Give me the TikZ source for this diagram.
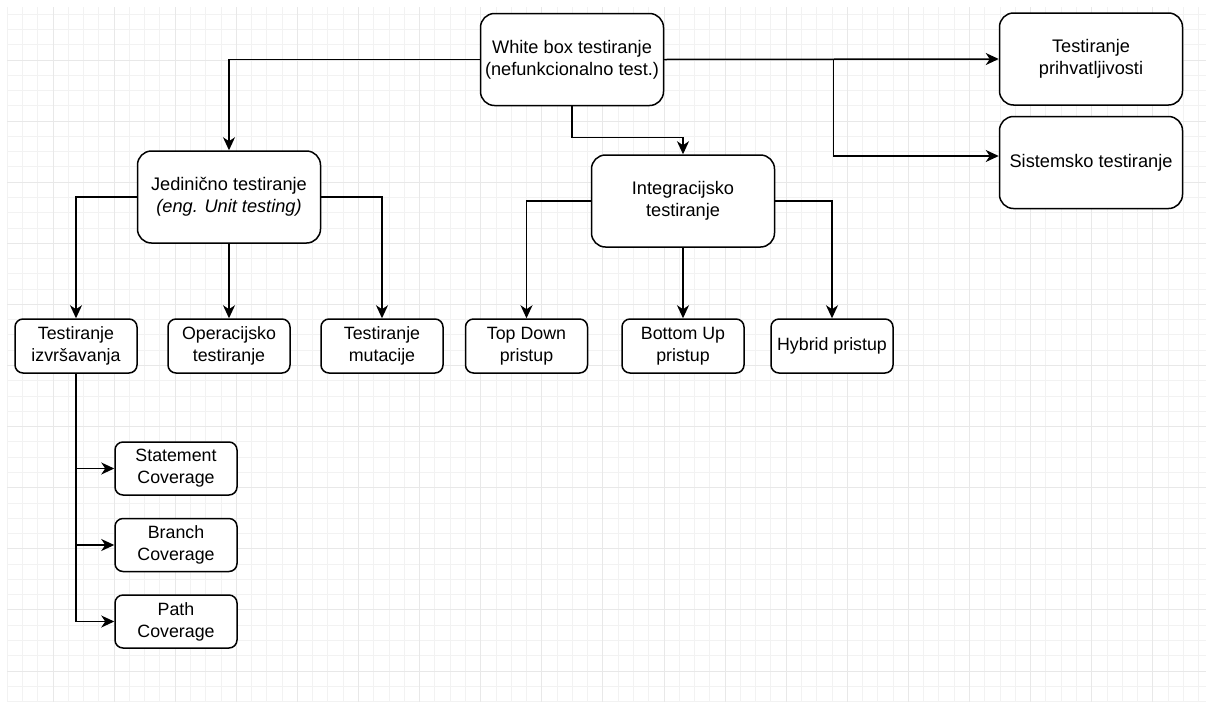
\documentclass[tikz,border=0pt]{standalone}
\usepackage{fontspec}
\setmainfont{Liberation Sans}
\usetikzlibrary{arrows.meta}

\begin{document}
\begin{tikzpicture}[x=1pt,y=-1pt,
  bigbox/.style={draw,rounded corners=14pt,line width=1.5pt,fill=white,minimum width=183pt,minimum height=92pt,align=center,inner sep=2pt,font=\fontsize{18.2}{21.8}\selectfont},
  smallbox/.style={draw,rounded corners=8pt,line width=1.5pt,fill=white,minimum width=122pt,minimum height=54pt,align=center,inner sep=2pt,font=\fontsize{17.8}{21.8}\selectfont},
  conn/.style={line width=1.5pt,-{Stealth[length=13pt,width=12pt,inset=4pt]}},
  minorgrid/.style={draw=black!5,line width=1pt},
  majorgrid/.style={draw=black!9,line width=1pt}]
\useasboundingbox (0,0) rectangle (1206,702);
\fill[white] (0,0) rectangle (1206,702);
% grid
\foreach \i in {0,...,78} \draw[minorgrid] ({7.2+\i*15.275},7) -- ({7.2+\i*15.275},702);
\foreach \j in {0,...,45} \draw[minorgrid] (7,{14.2+\j*15.275}) -- (1206,{14.2+\j*15.275});
\foreach \i in {0,...,18} \draw[majorgrid] ({53+\i*61.1},7) -- ({53+\i*61.1},702);
\foreach \j in {0,...,10} \draw[majorgrid] (7,{60+\j*61.1}) -- (1206,{60+\j*61.1});

% White box testing tree
\node[bigbox] (wb) at (572,59.5) {White box testiranje\\(nefunkcionalno test.)};
\node[bigbox] (tp) at (1091,59) {Testiranje\\prihvatljivosti};
\node[bigbox] (sis) at (1091,162.5) {Sistemsko testiranje};
\node[bigbox] (jt) at (229,197) {Jedinično testiranje\\\textit{(eng. Unit testing)}};
\node[bigbox] (it) at (683,201) {Integracijsko\\testiranje};

\node[smallbox] (ti) at (76,346) {Testiranje\\izvršavanja};
\node[smallbox] (ot) at (229,346) {Operacijsko\\testiranje};
\node[smallbox] (tm) at (382,346) {Testiranje\\mutacije};
\node[smallbox] (td) at (526.5,346) {Top Down\\pristup};
\node[smallbox] (bu) at (683,346) {Bottom Up\\pristup};
\node[smallbox] (hp) at (832,346) {Hybrid pristup};

\node[smallbox,minimum height=53pt] (sc) at (176,468.5) {Statement\\Coverage};
\node[smallbox,minimum height=53pt] (bc) at (176,545) {Branch\\Coverage};
\node[smallbox,minimum height=53pt] (pc) at (176,621.5) {Path\\Coverage};

\draw[conn] (wb.west) -| (jt.north);
\draw[conn] (wb.south) -- ++(0,31) -| (it.north);
\draw[conn] (wb.east) -- (tp.west);
\draw[conn] (wb.east) -- ++(169,0) |- ([yshift=6.5pt]sis.west);

\draw[conn] (jt.west) -| (ti.north);
\draw[conn] (jt.south) -- (ot.north);
\draw[conn] (jt.east) -| (tm.north);

\draw[conn] (it.west) -| (td.north);
\draw[conn] (it.south) -- (bu.north);
\draw[conn] (it.east) -| (hp.north);

\draw[conn] (ti.south) |- (sc.west);
\draw[conn] (ti.south) |- (bc.west);
\draw[conn] (ti.south) |- (pc.west);
\end{tikzpicture}
\end{document}
